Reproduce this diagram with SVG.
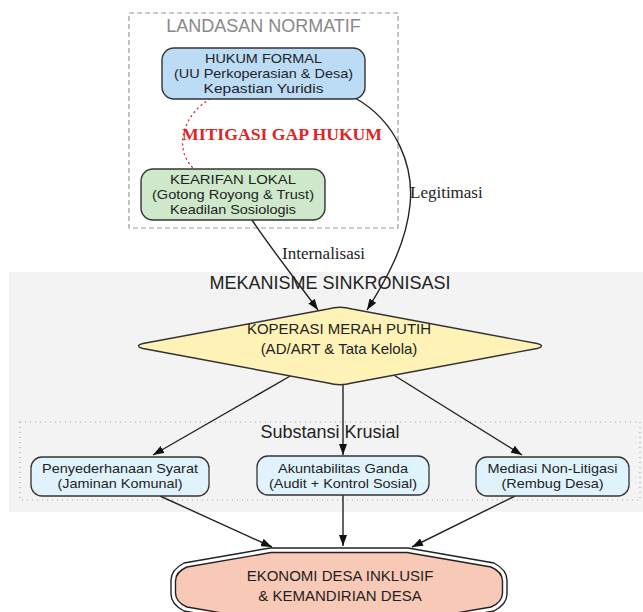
<svg xmlns="http://www.w3.org/2000/svg" width="643" height="612" viewBox="0 0 643 612">
<defs>
<marker id="ah" markerUnits="userSpaceOnUse" markerWidth="11" markerHeight="8" refX="11" refY="4" orient="auto">
<path d="M0,0 L11,4 L0,8 z" fill="#111"/>
</marker>
<style>
.sans{font-family:"Liberation Sans",Arial,sans-serif;fill:#222;text-anchor:middle}
.nt{font-family:"Liberation Sans",Arial,sans-serif;fill:#222;text-anchor:middle;font-size:13.3px}
.serif{font-family:"Liberation Serif","Times New Roman",serif;fill:#222}
.edge{fill:none;stroke:#222;stroke-width:1.4}
.box{stroke:#333;stroke-width:1.4}
.sub{fill:#e0f3fc;stroke:#333;stroke-width:1.3}
</style>
</defs>
<rect width="643" height="612" fill="#ffffff"/>

<!-- clusters -->
<g id="cluster-mekanisme">
<rect x="9" y="272" width="650" height="240" fill="#f3f3f3"/>
<text class="sans" x="330" y="289" font-size="18">MEKANISME SINKRONISASI</text>
</g>
<g id="cluster-landasan">
<rect x="129" y="13" width="269" height="215" fill="none" stroke="#9a9a9a" stroke-width="1.2" stroke-dasharray="5,3"/>
<text class="sans" x="263.5" y="32" font-size="18" style="fill:#888">LANDASAN NORMATIF</text>
</g>
<g id="cluster-substansi">
<rect x="20" y="422" width="620" height="78" fill="none" stroke="#a8a8a8" stroke-width="1.2" stroke-dasharray="1,4"/>
<text class="sans" x="330" y="438" font-size="18">Substansi Krusial</text>
</g>

<!-- connectors -->
<g id="connectors">
<path d="M210,99 C184,114 172,148 194,169" fill="none" stroke="#e03030" stroke-width="1.4" stroke-dasharray="1,4" stroke-linecap="round"/>
<path class="edge" d="M355,98 C398,122 414,168 410,205 C406,245 386,280 367,310" marker-end="url(#ah)"/>
<path class="edge" d="M252,220 C272,250 296,280 318,310" marker-end="url(#ah)"/>
<path class="edge" d="M292,375 L153,455" marker-end="url(#ah)"/>
<path class="edge" d="M343,384 L343,455" marker-end="url(#ah)"/>
<path class="edge" d="M392,374 L522,455" marker-end="url(#ah)"/>
<path class="edge" d="M160,496 L272,547" marker-end="url(#ah)"/>
<path class="edge" d="M343,495 L343,546" marker-end="url(#ah)"/>
<path class="edge" d="M515,496 L412,547" marker-end="url(#ah)"/>
<text class="serif" x="410" y="198" font-size="17">Legitimasi</text>
<text class="serif" x="282" y="259" font-size="17">Internalisasi</text>
<text class="serif" x="182" y="140" font-size="16" font-weight="bold" textLength="200" lengthAdjust="spacingAndGlyphs" style="fill:#e02424">MITIGASI GAP HUKUM</text>
</g>

<!-- nodes -->
<g id="hukum-formal">
<rect class="box" x="162" y="48" width="203" height="51" rx="12" fill="#bcdcf6"/>
<text class="nt" x="263.5" y="63" textLength="117" lengthAdjust="spacingAndGlyphs">HUKUM FORMAL</text>
<text class="nt" x="263.5" y="78" textLength="179" lengthAdjust="spacingAndGlyphs">(UU Perkoperasian &amp; Desa)</text>
<text class="nt" x="263.5" y="93" textLength="120" lengthAdjust="spacingAndGlyphs">Kepastian Yuridis</text>
</g>
<g id="kearifan-lokal">
<rect class="box" x="141" y="169" width="184" height="51" rx="12" fill="#cfe8cb"/>
<text class="nt" x="233" y="184" textLength="126" lengthAdjust="spacingAndGlyphs">KEARIFAN LOKAL</text>
<text class="nt" x="233" y="199" textLength="162" lengthAdjust="spacingAndGlyphs">(Gotong Royong &amp; Trust)</text>
<text class="nt" x="233" y="214" textLength="126" lengthAdjust="spacingAndGlyphs">Keadilan Sosiologis</text>
</g>
<g id="koperasi">
<path d="M328,309 Q340,305.5 352,309 L537,343.5 Q546,346 537,348.5 L352,383 Q340,386.5 328,383 L143,348.5 Q134,346 143,343.5 Z" fill="#fff2b6" stroke="#333" stroke-width="1.4"/>
<text class="sans" font-size="15"><tspan x="339" y="334">KOPERASI MERAH PUTIH</tspan><tspan x="339" y="354">(AD/ART &amp; Tata Kelola)</tspan></text>
</g>
<g id="penyederhanaan">
<rect class="sub" x="31" y="457" width="178" height="39" rx="11"/>
<text class="nt" x="120" y="473" textLength="156" lengthAdjust="spacingAndGlyphs">Penyederhanaan Syarat</text>
<text class="nt" x="120" y="488" textLength="125" lengthAdjust="spacingAndGlyphs">(Jaminan Komunal)</text>
</g>
<g id="akuntabilitas">
<rect class="sub" x="257" y="456" width="172" height="39" rx="11"/>
<text class="nt" x="343" y="473" textLength="130" lengthAdjust="spacingAndGlyphs">Akuntabilitas Ganda</text>
<text class="nt" x="343" y="488" textLength="148" lengthAdjust="spacingAndGlyphs">(Audit + Kontrol Sosial)</text>
</g>
<g id="mediasi">
<rect class="sub" x="476" y="457" width="153" height="39" rx="11"/>
<text class="nt" x="552.5" y="473" textLength="130" lengthAdjust="spacingAndGlyphs">Mediasi Non-Litigasi</text>
<text class="nt" x="552.5" y="488" textLength="102" lengthAdjust="spacingAndGlyphs">(Rembug Desa)</text>
</g>
<g id="ekonomi">
<path d="M270,548 L408,548 L494,563 Q507,570 507,580 L507,594 Q507,604 494,611 L408,626 L270,626 L184,611 Q171,604 171,594 L171,580 Q171,570 184,563 Z" fill="none" stroke="#222" stroke-width="1.4"/>
<path d="M271,552.5 L407,552.5 L491,567 Q502.5,572 502.5,581 L502.5,593 Q502.5,602 491,607 L407,621.5 L271,621.5 L187,607 Q175.5,602 175.5,593 L175.5,581 Q175.5,572 187,567 Z" fill="#f8c9b6" stroke="#222" stroke-width="1.4"/>
<text class="sans" font-size="15"><tspan x="340" y="581">EKONOMI DESA INKLUSIF</tspan><tspan x="340" y="601">&amp; KEMANDIRIAN DESA</tspan></text>
</g>
</svg>
